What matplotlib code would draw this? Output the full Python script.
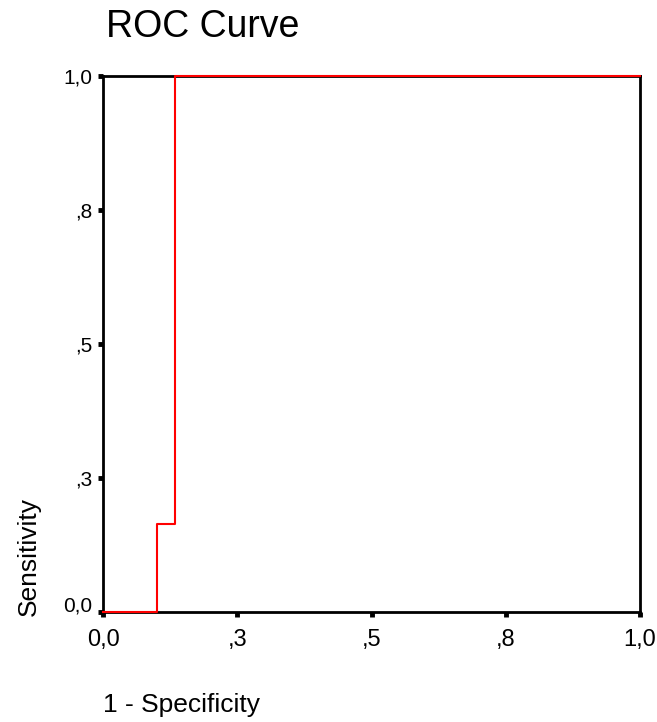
import matplotlib
matplotlib.use("Agg")
import matplotlib.pyplot as plt
from matplotlib.ticker import FixedLocator, FixedFormatter
import matplotlib.transforms as mtransforms

plt.rcParams['font.family'] = ['Liberation Sans', 'DejaVu Sans']

# ROC points (1 - specificity, sensitivity)
fpr = [0.0, 0.1, 0.1, 0.134, 0.134, 1.0]
tpr = [0.0, 0.0, 0.165, 0.165, 1.0, 1.0]

tick_pos = [0.0, 0.25, 0.5, 0.75, 1.0]
tick_labels = ['0,0', ',3', ',5', ',8', '1,0']

fig = plt.figure(figsize=(6.57, 7.22), dpi=100)
ax = fig.add_axes([103 / 657, 110 / 722, 537 / 657, 536 / 722])

ax.plot(fpr, tpr, color='#ff0000', lw=1.5, clip_on=False, zorder=3)

ax.set_xlim(0, 1)
ax.set_ylim(0, 1)
for s in ax.spines.values():
    s.set_linewidth(2)
    s.set_color('black')

ax.xaxis.set_major_locator(FixedLocator(tick_pos))
ax.xaxis.set_major_formatter(FixedFormatter(tick_labels))
ax.yaxis.set_major_locator(FixedLocator(tick_pos))
ax.yaxis.set_major_formatter(FixedFormatter(tick_labels))
ax.tick_params(direction='out', length=3.5, width=3.5, color='black')
ax.tick_params(axis='x', pad=8.5, labelsize=17)
ax.tick_params(axis='y', pad=4, labelsize=15)

# bottom y label sits a little above its tick
lbl = ax.get_yticklabels()[0]
lbl.set_transform(lbl.get_transform() + mtransforms.ScaledTranslation(0, 8 / 100, fig.dpi_scale_trans))

fig.text(106 / 657, 1 - 37 / 722, 'ROC Curve', fontsize=27, ha='left', va='baseline')
fig.text(103 / 657, 1 - 712 / 722, '1 - Specificity', fontsize=19, ha='left', va='baseline')
fig.text(41 / 657, 1 - 616 / 722, 'Sensitivity', fontsize=19, rotation=90,
         ha='right', va='bottom')

fig.savefig('out.png', dpi=100)
